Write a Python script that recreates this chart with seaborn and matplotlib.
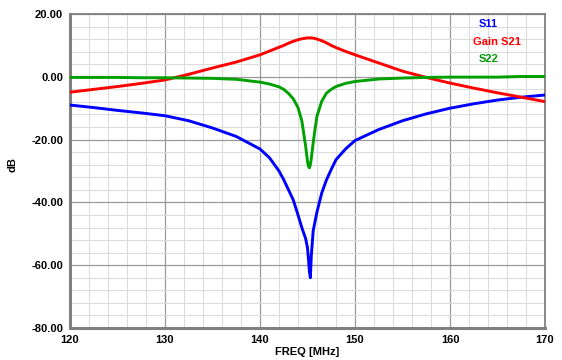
import numpy as np
import pandas as pd
import matplotlib
matplotlib.use("Agg")
import matplotlib.pyplot as plt
from matplotlib.ticker import MultipleLocator, FormatStrFormatter
import seaborn as sns

# frequency points (MHz), denser around the resonance
freq = [120, 122.5, 125, 127.5, 130, 132.5, 135, 137.5, 140, 141, 142, 142.5,
        143, 143.5, 144, 144.4, 144.8, 145.0, 145.1, 145.2, 145.3, 145.4,
        145.6, 145.8, 146, 146.5, 147, 147.5, 148, 149, 150, 152.5, 155,
        157.5, 160, 162.5, 165, 167.5, 170]

s11 = [-9.0, -9.8, -10.7, -11.5, -12.4, -14.0, -16.3, -19.0, -23.0, -25.8,
       -30.0, -32.8, -36.0, -39.2, -44.0, -48.0, -51.5, -54.5, -58.0, -62.0,
       -64.0, -57.0, -49.0, -46.0, -43.0, -37.0, -32.8, -29.5, -26.4, -23.0,
       -20.3, -16.8, -14.0, -11.8, -10.0, -8.6, -7.4, -6.5, -5.8]

gain_s21 = [-4.9, -4.0, -3.1, -2.1, -1.0, 0.8, 2.8, 4.7, 7.0, 8.2, 9.4, 10.0,
            10.7, 11.3, 11.8, 12.1, 12.3, 12.4, 12.4, 12.4, 12.4, 12.4, 12.3,
            12.2, 12.0, 11.5, 10.8, 10.0, 9.3, 8.1, 7.0, 4.4, 1.8, -0.2, -2.0,
            -3.6, -5.1, -6.5, -7.9]

s22 = [-0.2, -0.2, -0.2, -0.3, -0.3, -0.4, -0.5, -0.8, -1.7, -2.3, -3.2, -4.0,
       -5.3, -7.0, -9.8, -14.0, -22.0, -27.0, -28.5, -29.0, -28.0, -26.0,
       -21.0, -16.5, -12.5, -7.8, -5.2, -4.0, -3.1, -2.1, -1.5, -0.7, -0.4,
       -0.2, -0.1, -0.1, -0.1, 0.1, 0.1]

series_names = ["S11", "Gain S21", "S22"]
series_colors = ["#0000ff", "#ff0000", "#00a000"]
label_colors = ["#0000ff", "#ff0000", "#009900"]

df = pd.concat([
    pd.DataFrame({"freq": freq, "dB": s11, "trace": "S11"}),
    pd.DataFrame({"freq": freq, "dB": gain_s21, "trace": "Gain S21"}),
    pd.DataFrame({"freq": freq, "dB": s22, "trace": "S22"}),
])

sns.set_style("white")
plt.rcParams["font.family"] = ["Liberation Sans", "DejaVu Sans"]
plt.rcParams["font.weight"] = "bold"
plt.rcParams["text.color"] = "black"
plt.rcParams["axes.labelcolor"] = "black"
plt.rcParams["xtick.labelcolor"] = "black"
plt.rcParams["ytick.labelcolor"] = "black"

fig, ax = plt.subplots(figsize=(5.62, 3.6), dpi=100)
fig.subplots_adjust(left=70 / 562, right=545 / 562, bottom=1 - 328 / 360, top=1 - 14 / 360)

sns.lineplot(data=df, x="freq", y="dB", hue="trace", hue_order=series_names,
             palette=dict(zip(series_names, series_colors)), linewidth=2.1,
             legend=False, ax=ax, zorder=3, sort=False)

ax.set_xlim(120, 170)
ax.set_ylim(-80, 20)
ax.xaxis.set_major_locator(MultipleLocator(10))
ax.xaxis.set_minor_locator(MultipleLocator(2))
ax.yaxis.set_major_locator(MultipleLocator(20))
ax.yaxis.set_minor_locator(MultipleLocator(4))
ax.yaxis.set_major_formatter(FormatStrFormatter("%.2f"))

ax.grid(which="minor", color="#dcdcdc", linewidth=0.8, zorder=0)
ax.grid(which="major", color="#9a9a9a", linewidth=0.9, zorder=1)
ax.set_axisbelow(True)

ax.tick_params(which="both", direction="out", color="#808080", labelsize=8,
               labelcolor="black")
ax.tick_params(which="major", length=4, width=1)
ax.tick_params(which="minor", length=4, width=0.8)
ax.tick_params(axis="x", pad=1)
ax.tick_params(axis="y", pad=1)
for lab in ax.get_xticklabels() + ax.get_yticklabels():
    lab.set_fontweight("bold")

for side in ["left", "bottom"]:
    ax.spines[side].set_color("#808080")
    ax.spines[side].set_linewidth(2.2)
for side in ["top", "right"]:
    ax.spines[side].set_color("#808080")
    ax.spines[side].set_linewidth(1.3)

ax.set_xlabel("FREQ [MHz]", fontsize=8, fontweight="bold", color="black")
ax.set_ylabel("dB", fontsize=8, fontweight="bold", color="black")
ax.xaxis.set_label_coords(0.5, -0.076)
ax.yaxis.set_label_coords(-0.122, 0.52)
ax.xaxis.label.set_va("center")
ax.yaxis.label.set_va("center")

# text-only legend in the upper right
label_pos = [(0.88, 0.968), (0.899, 0.911), (0.882, 0.857)]
for name, col, (tx, ty) in zip(series_names, label_colors, label_pos):
    ax.text(tx, ty, name, color=col, fontsize=8, fontweight="bold",
            ha="center", va="center", transform=ax.transAxes)

fig.savefig("out.png", dpi=100)
